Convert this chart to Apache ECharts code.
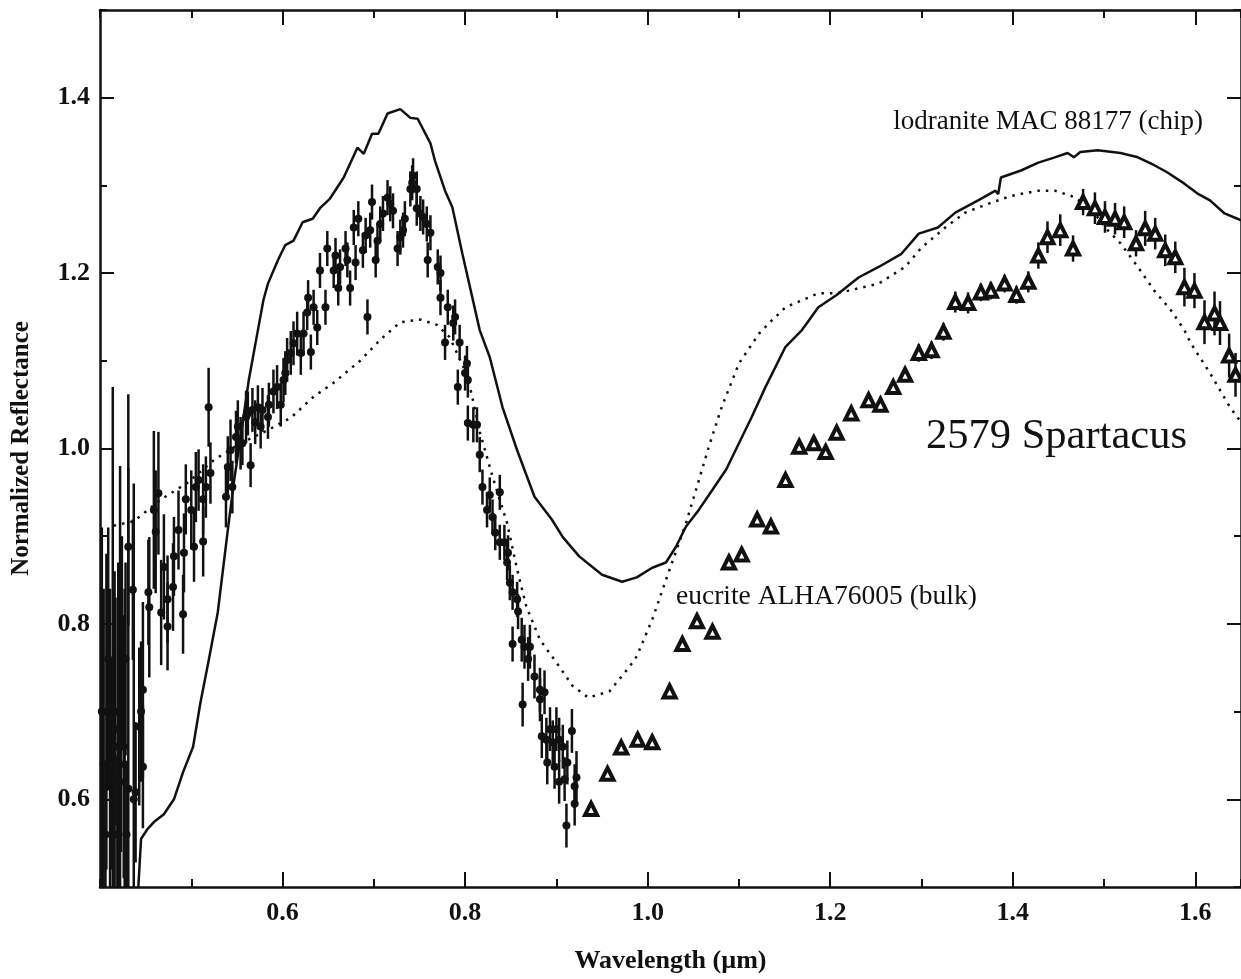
<!DOCTYPE html>
<html>
<head>
<meta charset="utf-8">
<title>2579 Spartacus reflectance spectrum</title>
<script src="https://cdn.jsdelivr.net/npm/echarts@6/dist/echarts.min.js"></script>
<style>
  html, body { margin: 0; padding: 0; background: #fff; }
  #chart { width: 1241px; height: 979px; }
</style>
</head>
<body>
<div id="chart"></div>
<script>
// Tick values (µm and normalized reflectance)
const xMajorTicks = [0.6, 0.8, 1.0, 1.2, 1.4, 1.6];
const yMajorTicks = [0.6, 0.8, 1.0, 1.2, 1.4];

// Lodranite MAC 88177 (chip) laboratory spectrum
const lodWave = [0.442,0.445,0.452,0.459,0.470,0.481,0.491,0.502,0.510,0.519,0.529,0.540,0.547,0.554,0.563,0.573,0.579,0.584,0.595,0.603,0.612,0.622,0.633,0.641,0.652,0.667,0.682,0.689,0.698,0.705,0.715,0.729,0.740,0.748,0.751,0.762,0.767,0.778,0.786,0.797,0.816,0.827,0.841,0.857,0.876,0.895,0.907,0.925,0.950,0.972,0.988,1.005,1.020,1.031,1.042,1.056,1.071,1.086,1.100,1.114,1.129,1.151,1.169,1.187,1.207,1.231,1.253,1.278,1.297,1.318,1.337,1.362,1.381,1.384,1.387,1.409,1.428,1.446,1.460,1.467,1.474,1.493,1.518,1.537,1.555,1.569,1.588,1.602,1.616,1.632,1.646,1.650];
const lodRefl = [0.500,0.555,0.566,0.574,0.583,0.600,0.631,0.660,0.710,0.758,0.813,0.907,0.964,1.013,1.078,1.135,1.169,1.188,1.215,1.232,1.237,1.258,1.262,1.274,1.285,1.309,1.343,1.336,1.359,1.359,1.382,1.387,1.377,1.376,1.370,1.348,1.328,1.294,1.275,1.222,1.135,1.104,1.047,0.998,0.945,0.919,0.899,0.877,0.856,0.848,0.853,0.864,0.870,0.888,0.911,0.930,0.953,0.976,1.006,1.036,1.070,1.116,1.135,1.161,1.175,1.195,1.207,1.222,1.245,1.252,1.269,1.283,1.294,1.290,1.309,1.317,1.326,1.332,1.337,1.332,1.338,1.340,1.337,1.332,1.323,1.315,1.302,1.291,1.283,1.268,1.262,1.260];

// Eucrite ALHA76005 (bulk) laboratory spectrum
const eucWave = [0.415,0.437,0.467,0.496,0.525,0.554,0.584,0.609,0.634,0.656,0.685,0.707,0.729,0.751,0.769,0.783,0.791,0.798,0.807,0.816,0.830,0.846,0.857,0.867,0.882,0.900,0.918,0.935,0.958,0.980,0.988,1.005,1.024,1.042,1.053,1.067,1.081,1.100,1.122,1.133,1.151,1.187,1.206,1.220,1.253,1.282,1.300,1.326,1.348,1.373,1.398,1.428,1.446,1.464,1.485,1.501,1.518,1.537,1.555,1.573,1.588,1.595,1.616,1.638,1.650];
const eucRefl = [0.912,0.917,0.942,0.961,0.987,1.006,1.021,1.035,1.059,1.075,1.100,1.124,1.144,1.147,1.141,1.127,1.109,1.093,1.063,1.019,0.968,0.915,0.862,0.820,0.782,0.756,0.729,0.716,0.723,0.751,0.763,0.805,0.862,0.915,0.953,1.002,1.047,1.097,1.131,1.143,1.161,1.177,1.177,1.180,1.188,1.207,1.229,1.252,1.269,1.279,1.288,1.294,1.294,1.288,1.275,1.252,1.234,1.207,1.180,1.158,1.135,1.120,1.086,1.047,1.030];

// 2579 Spartacus, visible spectrum (wavelength, reflectance, 1-sigma)
const visWave = [0.402,0.404,0.406,0.407,0.409,0.411,0.412,0.414,0.416,0.417,0.419,0.420,0.422,0.423,0.424,0.426,0.427,0.428,0.429,0.431,0.431,0.436,0.437,0.439,0.443,0.445,0.447,0.447,0.453,0.454,0.459,0.461,0.464,0.467,0.470,0.474,0.474,0.480,0.481,0.486,0.491,0.492,0.494,0.500,0.503,0.505,0.508,0.513,0.513,0.516,0.519,0.521,0.538,0.540,0.543,0.545,0.549,0.551,0.554,0.556,0.560,0.562,0.565,0.567,0.570,0.573,0.576,0.578,0.584,0.585,0.590,0.594,0.598,0.601,0.603,0.605,0.609,0.612,0.616,0.620,0.623,0.627,0.628,0.631,0.634,0.638,0.641,0.647,0.649,0.656,0.658,0.661,0.663,0.669,0.671,0.674,0.678,0.680,0.683,0.688,0.691,0.693,0.696,0.698,0.702,0.704,0.707,0.710,0.715,0.718,0.721,0.726,0.729,0.732,0.734,0.740,0.742,0.743,0.747,0.747,0.751,0.754,0.758,0.759,0.762,0.770,0.773,0.773,0.778,0.781,0.787,0.789,0.792,0.794,0.800,0.802,0.803,0.803,0.809,0.813,0.816,0.819,0.824,0.827,0.830,0.833,0.838,0.838,0.843,0.846,0.847,0.849,0.852,0.852,0.857,0.858,0.862,0.863,0.865,0.869,0.871,0.876,0.882,0.882,0.884,0.887,0.889,0.890,0.893,0.896,0.898,0.900,0.903,0.903,0.907,0.909,0.911,0.912,0.917,0.920,0.920,0.922];
const visRefl = [0.700,0.640,0.560,0.700,0.760,0.620,0.640,0.600,0.660,0.700,0.560,0.680,0.620,0.700,0.780,0.660,0.640,0.760,0.560,0.612,0.888,0.839,0.600,0.608,0.683,0.700,0.725,0.637,0.836,0.819,0.930,0.905,0.949,0.813,0.865,0.828,0.797,0.842,0.877,0.907,0.811,0.881,0.942,0.930,0.888,0.956,0.964,0.942,0.894,0.956,1.047,0.972,0.945,0.979,0.998,0.956,1.013,1.025,1.006,1.006,1.036,1.040,0.981,1.044,1.030,1.047,1.025,1.044,1.036,1.050,1.065,1.070,1.050,1.078,1.086,1.101,1.109,1.120,1.131,1.109,1.131,1.155,1.172,1.110,1.161,1.138,1.203,1.161,1.228,1.203,1.220,1.183,1.207,1.228,1.215,1.183,1.252,1.212,1.262,1.226,1.243,1.150,1.249,1.281,1.215,1.237,1.256,1.268,1.286,1.279,1.271,1.228,1.241,1.249,1.262,1.296,1.303,1.311,1.296,1.274,1.268,1.264,1.256,1.215,1.246,1.207,1.200,1.172,1.121,1.161,1.143,1.150,1.070,1.121,1.086,1.097,1.078,1.029,1.027,1.027,0.993,0.956,0.930,0.947,0.922,0.904,0.950,0.893,0.893,0.870,0.881,0.847,0.836,0.777,0.828,0.814,0.782,0.708,0.774,0.760,0.774,0.740,0.725,0.714,0.672,0.722,0.668,0.642,0.680,0.665,0.637,0.680,0.668,0.620,0.660,0.623,0.570,0.642,0.678,0.615,0.595,0.625];
const visErr = [0.210,0.200,0.080,0.180,0.150,0.220,0.120,0.470,0.200,0.130,0.090,0.190,0.360,0.160,0.120,0.150,0.200,0.110,0.080,0.450,0.090,0.080,0.360,0.080,0.090,0.080,0.100,0.070,0.060,0.080,0.090,0.070,0.070,0.060,0.060,0.050,0.050,0.050,0.045,0.045,0.045,0.045,0.040,0.045,0.040,0.040,0.035,0.040,0.040,0.035,0.045,0.035,0.035,0.035,0.035,0.030,0.030,0.030,0.030,0.025,0.030,0.025,0.025,0.025,0.025,0.025,0.025,0.025,0.025,0.025,0.025,0.025,0.025,0.025,0.025,0.025,0.025,0.025,0.025,0.025,0.025,0.020,0.020,0.020,0.020,0.020,0.020,0.020,0.020,0.020,0.020,0.020,0.020,0.020,0.020,0.020,0.020,0.020,0.020,0.020,0.020,0.020,0.020,0.020,0.020,0.020,0.020,0.020,0.020,0.020,0.020,0.020,0.020,0.020,0.020,0.020,0.020,0.020,0.020,0.020,0.020,0.020,0.020,0.020,0.020,0.020,0.020,0.020,0.020,0.020,0.020,0.020,0.020,0.020,0.020,0.020,0.020,0.020,0.020,0.020,0.020,0.020,0.020,0.020,0.020,0.020,0.020,0.020,0.020,0.020,0.020,0.020,0.020,0.020,0.020,0.020,0.025,0.025,0.025,0.025,0.025,0.025,0.025,0.025,0.025,0.025,0.025,0.025,0.025,0.025,0.025,0.025,0.025,0.025,0.025,0.025,0.025,0.025,0.025,0.025,0.025,0.030];

// 2579 Spartacus, near-infrared spectrum (wavelength, reflectance, 1-sigma)
const irWave = [0.938,0.956,0.971,0.989,1.005,1.024,1.038,1.054,1.071,1.089,1.103,1.120,1.135,1.151,1.166,1.182,1.195,1.207,1.223,1.242,1.255,1.269,1.282,1.297,1.311,1.324,1.337,1.351,1.365,1.376,1.391,1.404,1.417,1.428,1.438,1.452,1.466,1.477,1.490,1.501,1.512,1.522,1.535,1.545,1.556,1.567,1.578,1.588,1.599,1.610,1.621,1.627,1.637,1.644];
const irRefl = [0.589,0.629,0.659,0.668,0.665,0.723,0.777,0.803,0.791,0.870,0.879,0.919,0.911,0.964,1.002,1.006,0.996,1.018,1.040,1.055,1.050,1.070,1.084,1.109,1.112,1.133,1.167,1.166,1.178,1.180,1.188,1.175,1.190,1.220,1.241,1.249,1.228,1.281,1.274,1.264,1.262,1.258,1.234,1.251,1.245,1.226,1.218,1.184,1.180,1.144,1.154,1.143,1.106,1.084];
const irErr = [0.008,0.008,0.008,0.008,0.008,0.008,0.008,0.008,0.008,0.008,0.008,0.008,0.008,0.008,0.008,0.008,0.008,0.008,0.008,0.008,0.008,0.008,0.008,0.010,0.010,0.010,0.012,0.012,0.010,0.010,0.010,0.010,0.012,0.015,0.018,0.018,0.015,0.015,0.018,0.018,0.018,0.018,0.015,0.020,0.018,0.018,0.018,0.022,0.020,0.025,0.025,0.025,0.025,0.025];

const SERIF = '"Liberation Serif", "Times New Roman", serif';
const INK = '#111';

const pairs = (xs, ys) => xs.map((x, i) => [x, ys[i]]);
const bars = (xs, ys, es) => xs.map((x, i) => [x, ys[i] - es[i], ys[i] + es[i]]);

function errorBarSeries(data) {
  return {
    type: 'custom',
    xAxisIndex: 0, yAxisIndex: 0,
    clip: true, silent: true, z: 3,
    data: data,
    encode: { x: 0, y: [1, 2] },
    renderItem: function (params, api) {
      const lo = api.coord([api.value(0), api.value(1)]);
      const hi = api.coord([api.value(0), api.value(2)]);
      return {
        type: 'line',
        shape: { x1: lo[0], y1: lo[1], x2: hi[0], y2: hi[1] },
        style: { stroke: INK, lineWidth: 2.5 }
      };
    }
  };
}

// One axis pair per side: a fine axis (0.1 step, short ticks) and a major axis (long ticks, labels)
function xAxes(position, withLabels, withName) {
  const base = { type: 'value', min: 0.4, max: 1.65, position: position, splitLine: { show: false } };
  return [
    Object.assign({}, base, {
      interval: 0.1,
      axisLine: { show: true, onZero: false, lineStyle: { color: INK, width: 2.5 } },
      axisTick: { show: true, inside: true, length: 8, lineStyle: { color: INK, width: 2 } },
      axisLabel: { show: false },
      name: withName ? 'Wavelength (µm)' : '',
      nameLocation: 'middle', nameGap: 61,
      nameTextStyle: { fontFamily: SERIF, fontWeight: 'bold', fontSize: 26, color: INK }
    }),
    Object.assign({}, base, {
      axisLine: { show: false, onZero: false },
      axisTick: { show: true, inside: true, length: 15, customValues: xMajorTicks, lineStyle: { color: INK, width: 2 } },
      axisLabel: {
        show: withLabels, customValues: xMajorTicks, margin: 13,
        formatter: v => v.toFixed(1),
        fontFamily: SERIF, fontWeight: 'bold', fontSize: 26, color: INK
      }
    })
  ];
}

function yAxes(position, withLabels, withName) {
  const base = { type: 'value', min: 0.5, max: 1.5, position: position, splitLine: { show: false } };
  return [
    Object.assign({}, base, {
      interval: 0.1,
      axisLine: { show: true, onZero: false, lineStyle: { color: INK, width: 2.5 } },
      axisTick: { show: true, inside: true, length: 7, lineStyle: { color: INK, width: 2 } },
      axisLabel: { show: false },
      name: withName ? 'Normalized Reflectance' : '',
      nameLocation: 'middle', nameGap: 66, nameRotate: 90,
      nameTextStyle: { fontFamily: SERIF, fontWeight: 'bold', fontSize: 25, color: INK }
    }),
    Object.assign({}, base, {
      axisLine: { show: false, onZero: false },
      axisTick: { show: true, inside: true, length: 14, customValues: yMajorTicks, lineStyle: { color: INK, width: 2 } },
      axisLabel: {
        show: withLabels, customValues: yMajorTicks, margin: 10,
        formatter: v => v.toFixed(1),
        fontFamily: SERIF, fontWeight: 'bold', fontSize: 26, color: INK
      }
    })
  ];
}

const chart = echarts.init(document.getElementById('chart'), null, { renderer: 'canvas' });

chart.setOption({
  animation: false,
  backgroundColor: '#fff',
  grid: { left: 100, top: 10, width: 1144, height: 878, containLabel: false },
  xAxis: [].concat(xAxes('bottom', true, true), xAxes('top', false, false)),
  yAxis: [].concat(yAxes('left', true, true), yAxes('right', false, false)),
  series: [
    {
      name: 'lodranite MAC 88177 (chip)',
      type: 'line', xAxisIndex: 0, yAxisIndex: 0,
      data: pairs(lodWave, lodRefl),
      showSymbol: false, clip: true, z: 2,
      lineStyle: { color: INK, width: 2.5 }
    },
    {
      name: 'eucrite ALHA76005 (bulk)',
      type: 'line', xAxisIndex: 0, yAxisIndex: 0,
      data: pairs(eucWave, eucRefl),
      showSymbol: false, clip: true, z: 2,
      lineStyle: { color: INK, width: 2.5, type: [2.5, 6] }
    },
    errorBarSeries(bars(visWave, visRefl, visErr)),
    {
      name: 'visible',
      type: 'scatter', xAxisIndex: 0, yAxisIndex: 0,
      data: pairs(visWave, visRefl),
      symbol: 'circle', symbolSize: 8, clip: true, z: 4,
      itemStyle: { color: INK, opacity: 1 }
    },
    errorBarSeries(bars(irWave, irRefl, irErr)),
    {
      name: 'near-infrared',
      type: 'scatter', xAxisIndex: 0, yAxisIndex: 0,
      data: pairs(irWave, irRefl),
      symbol: 'triangle', symbolSize: 12, clip: true, z: 4,
      itemStyle: { color: '#fff', borderColor: INK, borderWidth: 4, opacity: 1 }
    }
  ]
});

// Curve and target labels, anchored in data space
const notes = [
  { text: 'lodranite MAC 88177 (chip)', at: [1.269, 1.372], size: 27 },
  { text: 'eucrite ALHA76005 (bulk)', at: [1.031, 0.831], size: 27.5 },
  { text: '2579 Spartacus', at: [1.305, 1.013], size: 42.5 }
];
chart.setOption({
  graphic: notes.map(n => {
    const p = chart.convertToPixel({ gridIndex: 0 }, n.at);
    return {
      type: 'text', x: p[0], y: p[1], z: 10,
      style: {
        text: n.text, fill: INK, fontFamily: SERIF, fontSize: n.size,
        align: 'left', verticalAlign: 'middle'
      }
    };
  })
});
</script>
</body>
</html>
